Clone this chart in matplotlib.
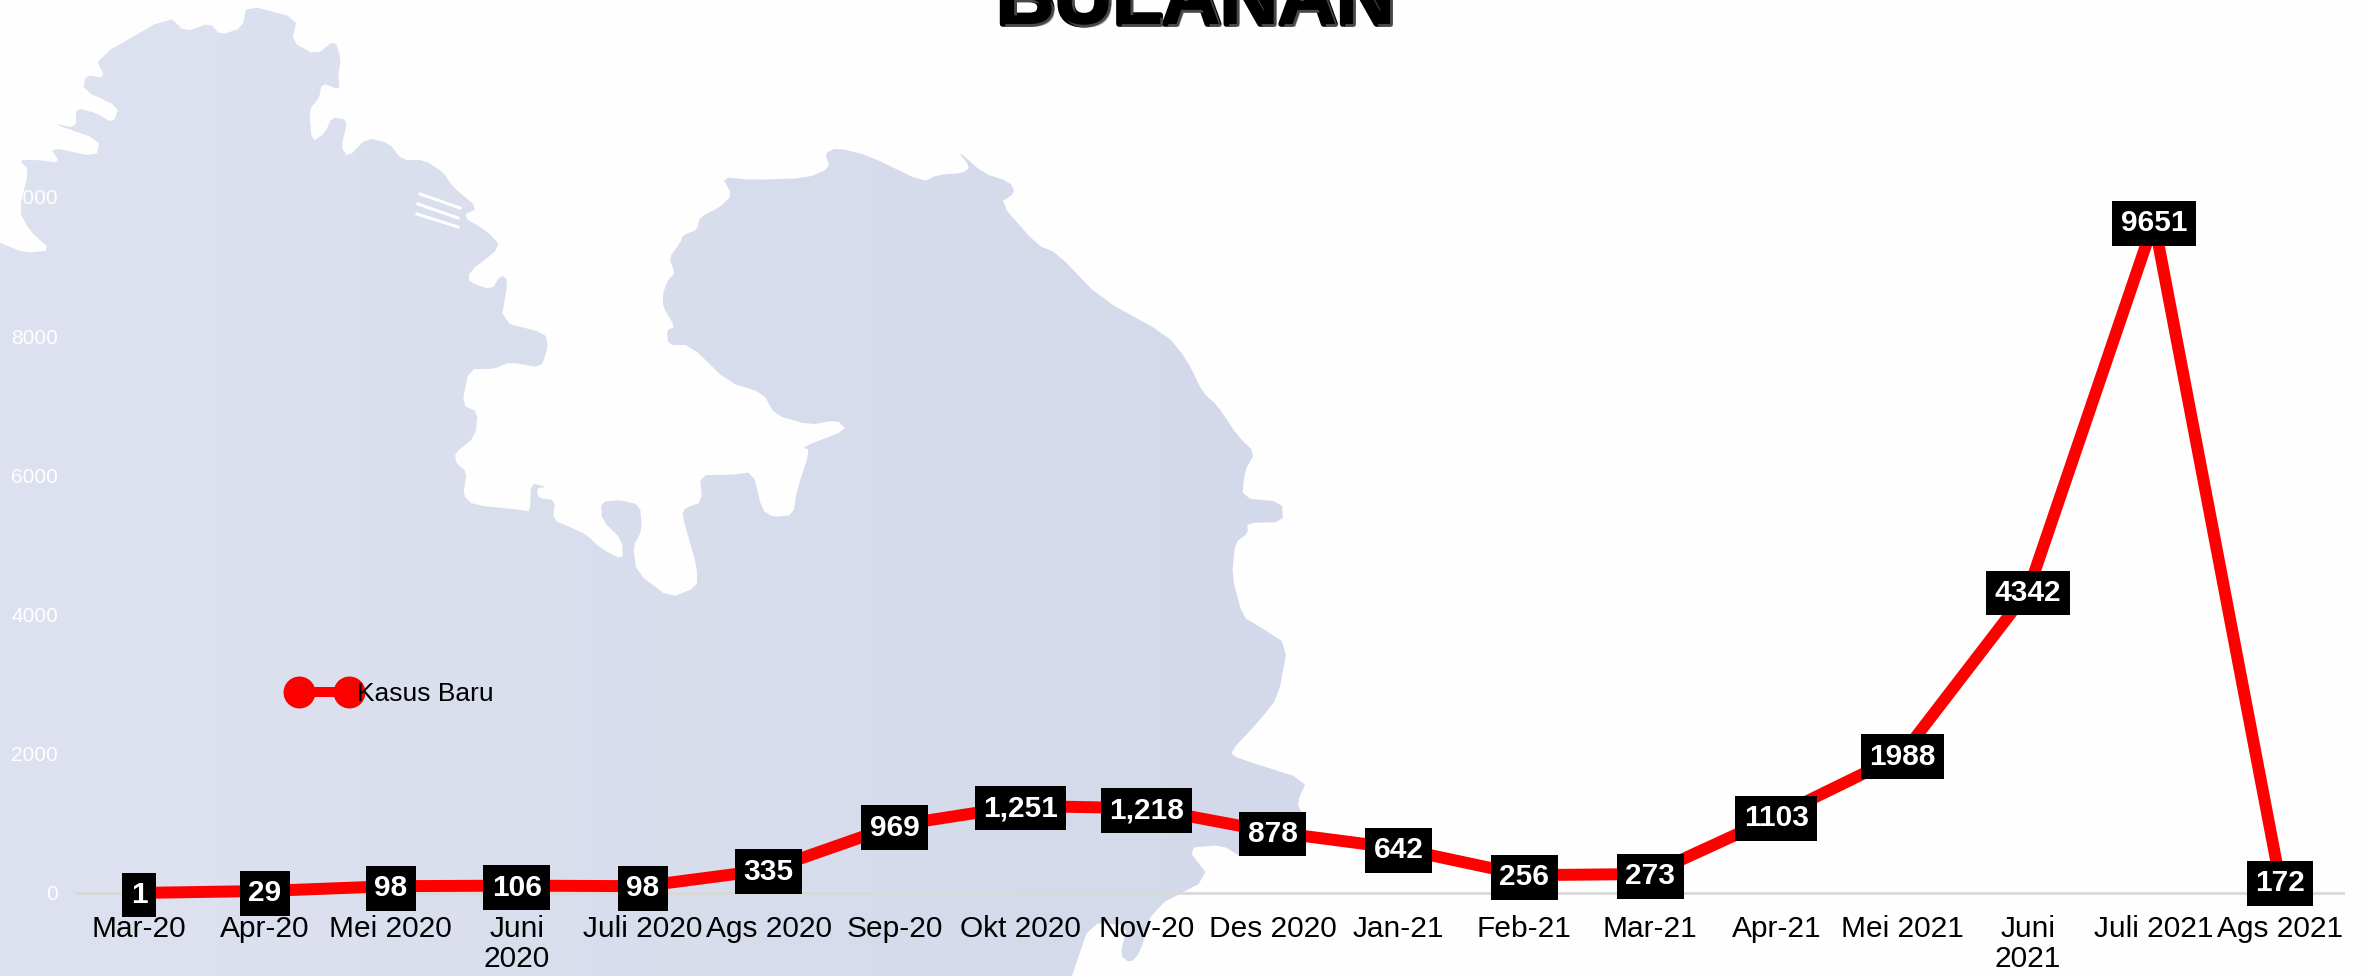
import numpy as np
import matplotlib
matplotlib.use('Agg')
import matplotlib.pyplot as plt
import matplotlib.patheffects as pe
from matplotlib.lines import Line2D
from matplotlib.patches import Polygon

plt.rcParams['font.family'] = ['Liberation Sans', 'DejaVu Sans']

W, H = 2366, 976

months = ['Mar-20', 'Apr-20', 'Mei 2020', 'Juni\n2020', 'Juli 2020', 'Ags 2020',
          'Sep-20', 'Okt 2020', 'Nov-20', 'Des 2020', 'Jan-21', 'Feb-21',
          'Mar-21', 'Apr-21', 'Mei 2021', 'Juni\n2021', 'Juli 2021', 'Ags 2021']
cases = [1, 29, 98, 106, 98, 335, 969, 1251, 1218, 878, 642, 256, 273, 1103,
         1988, 4342, 9651, 172]
case_labels = ['1', '29', '98', '106', '98', '335', '969', '1,251', '1,218', '878',
               '642', '256', '273', '1103', '1988', '4342', '9651', '172']
y_ticks = [0, 2000, 4000, 6000, 8000, 10000]

# map in the background, traced in image pixels (runs off the image on purpose)
land = [(-60, 215), (0, 243), (26, 253), (51, 250), (29, 230), (19, 210), (29, 170), (19, 160),
        (38, 160), (60, 163), (50, 147), (96, 157), (100, 140), (51, 123), (76, 128),
        (76, 108), (96, 113), (113, 123), (119, 107), (83, 90), (86, 75), (105, 78),
        (96, 58), (169, 16), (185, 32), (210, 23), (220, 35), (242, 28), (247, 5),
        (297, 18), (292, 42), (316, 55), (335, 40), (341, 60), (338, 75), (340, 90),
        (322, 83), (319, 98), (309, 110), (312, 142), (325, 133), (332, 117), (348, 120),
        (341, 147), (348, 157), (367, 138), (389, 143), (402, 160), (424, 160), (443, 172),
        (453, 187), (478, 208), (462, 216), (488, 232), (501, 247), (469, 272), (469, 282),
        (491, 290), (501, 275), (508, 280), (501, 322), (545, 333), (548, 347), (541, 368),
        (510, 362), (494, 369), (469, 369), (462, 405), (478, 412), (475, 437), (455, 453),
        (456, 463), (467, 472), (463, 495), (473, 505), (523, 510), (530, 512), (531, 483),
        (547, 487), (537, 488), (538, 498), (555, 500), (553, 520), (572, 528), (587, 535),
        (600, 548), (623, 560), (622, 540), (602, 520), (601, 502), (620, 500), (640, 505),
        (642, 530), (633, 547), (637, 573), (670, 598), (697, 587), (697, 567), (682, 515),
        (685, 508), (702, 502), (700, 475), (730, 475), (753, 472), (762, 510), (773, 517),
        (793, 515), (797, 490), (810, 450), (802, 447), (847, 430), (837, 420), (810, 425),
        (775, 415), (763, 393), (728, 382), (690, 345), (668, 345), (667, 330), (675, 327),
        (663, 307), (663, 293), (668, 280), (675, 273), (669, 258), (680, 243), (683, 235),
        (697, 230), (700, 217), (720, 207), (732, 195), (722, 177), (753, 180), (807, 178),
        (830, 168), (825, 153), (837, 148), (867, 155), (923, 182), (937, 175), (963, 173),
        (970, 167), (957, 150), (983, 173), (1010, 182), (1015, 193), (1000, 203), (1037, 245),
        (1057, 253), (1100, 298), (1167, 335), (1187, 360), (1203, 393), (1217, 405),
        (1237, 435), (1255, 453), (1245, 470), (1242, 498), (1282, 502), (1283, 522),
        (1247, 523), (1248, 533), (1235, 543), (1232, 577), (1243, 617), (1257, 625),
        (1288, 645), (1278, 697), (1260, 720), (1230, 752), (1237, 758), (1307, 780),
        (1297, 803), (1303, 815), (1243, 858), (1222, 845), (1187, 848), (1210, 878),
        (1153, 908), (1140, 953), (1130, 963), (1120, 955), (1128, 925), (1090, 923),
        (1072, 976), (1050, 1040), (1050, 1200), (-100, 1200), (-100, 400)]
stripes = [[(420, 194), (460, 208)], [(418, 204), (458, 218)], [(417, 214), (458, 227)]]


def soften(points):
    # one pass of corner cutting so the coast is not so angular
    pts = np.array(points, dtype=float)
    nxt = np.roll(pts, -1, axis=0)
    out = np.empty((len(pts) * 2, 2))
    out[0::2] = 0.8 * pts + 0.2 * nxt
    out[1::2] = 0.2 * pts + 0.8 * nxt
    return out


fig = plt.figure(figsize=(W / 100, H / 100), dpi=100, facecolor='#fefefe')

# background
ax_bg = fig.add_axes([0, 0, 1, 1], zorder=0)
ax_bg.set_xlim(0, W)
ax_bg.set_ylim(H, 0)
ax_bg.axis('off')
shade = np.linspace(0, 1, 256).reshape(1, -1)
cmap = matplotlib.colors.LinearSegmentedColormap.from_list('land', ['#dee2f0', '#d3d9ea'])
im = ax_bg.imshow(shade, extent=(0, 1310, H, 0), cmap=cmap, aspect='auto')
patch = Polygon(soften(land), closed=True, transform=ax_bg.transData, fc='none', ec='none')
ax_bg.add_patch(patch)
im.set_clip_path(patch)
ax_bg.set_xlim(0, W)
ax_bg.set_ylim(H, 0)
for s in stripes:
    ax_bg.plot(*zip(*s), color='#fefefe', lw=2.2)

# main chart
ax = fig.add_axes([76 / W, 1 - 893 / H, (2343 - 76) / W, (893 - 197) / H], zorder=1)
ax.patch.set_alpha(0)
x = np.arange(len(months))
ax.plot(x, cases, color='#ff0000', lw=8.6, solid_joinstyle='round', clip_on=False, zorder=3)
ax.set_xlim(-0.5, len(months) - 0.5)
ax.set_ylim(0, 10000)
ax.set_xticks(x)
ax.set_xticklabels(months, fontsize=21.5, color='black', linespacing=1.12)
ax.set_yticks(y_ticks)
ax.set_yticklabels([str(t) for t in y_ticks], fontsize=15, color='white')
ax.tick_params(axis='x', length=0, pad=15.5)
ax.tick_params(axis='y', length=0, pad=13)
for name in ['top', 'right', 'left']:
    ax.spines[name].set_visible(False)
ax.spines['bottom'].set_color('#d9d9d9')
ax.spines['bottom'].set_linewidth(2)

for xi, v, lab in zip(x, cases, case_labels):
    ax.text(xi, v + 12, lab, ha='center', va='center_baseline', color='white', fontsize=21.5,
            fontweight='bold', zorder=5, clip_on=False,
            bbox=dict(boxstyle='square,pad=0.28', fc='black', ec='black', lw=0))

handle = Line2D([], [], color='#ff0000', lw=7.2, marker='o', ms=23, mew=0)
leg = ax.legend([handle], ['Kasus Baru'], loc='center left', numpoints=2,
                bbox_to_anchor=(291 / W, 1 - 694 / H), bbox_transform=fig.transFigure,
                frameon=False, fontsize=19, handlelength=2.5, handletextpad=0,
                borderpad=0, borderaxespad=0)

fig.text(1196 / W, 1 - 24 / H, 'BULANAN', ha='center', va='baseline', fontsize=58,
         fontweight='bold', color='black', zorder=6,
         path_effects=[pe.withStroke(linewidth=4, foreground='black'),
                       pe.withSimplePatchShadow(offset=(2, -2), shadow_rgbFace='#777777', alpha=0.6)])

fig.savefig('out.png', dpi=100, facecolor=fig.get_facecolor())
